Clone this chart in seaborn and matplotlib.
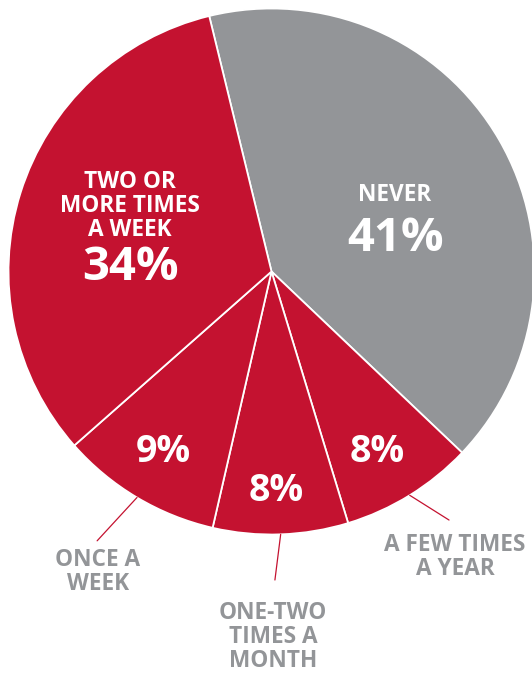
import numpy as np
import matplotlib
matplotlib.use("Agg")
import matplotlib.pyplot as plt
import seaborn as sns

# ---- data ----
categories = ["NEVER", "A FEW TIMES\nA YEAR", "ONE-TWO\nTIMES A\nMONTH", "ONCE A\nWEEK", "TWO OR\nMORE TIMES\nA WEEK"]
shares = [40.9, 8.2, 8.3, 9.9, 32.7]          # wedge sizes as drawn
pct_labels = ["41%", "8%", "8%", "9%", "34%"]  # printed labels
slice_colors = ["#939598", "#C41230", "#C41230", "#C41230", "#C41230"]

sns.set_theme(style="white")
plt.rcParams['font.family'] = ['Open Sans', 'DejaVu Sans']

W, H = 532, 673
fig = plt.figure(figsize=(W / 100, H / 100), dpi=100)
cx, cy, R = 271.5, 271.5, 263.0
ax = fig.add_axes([(cx - R) / W, 1 - (cy + R) / H, 2 * R / W, 2 * R / H])

wedges, _ = ax.pie(shares, colors=slice_colors, startangle=103.7, counterclock=False,
                   radius=1.0, wedgeprops=dict(edgecolor='white', linewidth=1.3))
ax.set_xlim(-1, 1)
ax.set_ylim(-1, 1)
ax.set_aspect('equal')
ax.axis('off')
for w in wedges:
    w.set_clip_on(False)

white = 'white'
txtgrey = '#939598'
linered = '#C41230'

SMALL = 16.3
BIG = 34
MID = 27

def mid(w):
    return np.deg2rad((w.theta1 + w.theta2) / 2)

# inside labels
ax.text(0.470, 0.291, "NEVER", ha='center', va='center', color=white, fontsize=SMALL, fontweight='bold')
ax.text(0.473, 0.124, pct_labels[0], ha='center', va='center', color=white, fontsize=BIG, fontweight='bold')
ax.text(-0.538, 0.249, categories[4], ha='center', va='center', color=white, fontsize=SMALL,
        fontweight='bold', linespacing=1.0)
ax.text(-0.538, 0.014, pct_labels[4], ha='center', va='center', color=white, fontsize=BIG, fontweight='bold')
ax.text(-0.413, -0.688, pct_labels[3], ha='center', va='center', color=white, fontsize=MID, fontweight='bold')
ax.text(0.017, -0.833, pct_labels[2], ha='center', va='center', color=white, fontsize=MID, fontweight='bold')
ax.text(0.401, -0.688, pct_labels[1], ha='center', va='center', color=white, fontsize=MID, fontweight='bold')

# outside labels with leader lines
outside = [
    (3, (-0.663, -1.024), (-0.660, -1.141)),
    (2, (0.013, -1.173), (0.006, -1.390)),
    (1, (0.675, -0.945), (0.698, -1.086)),
]
for idx, end, tpos in outside:
    a = mid(wedges[idx])
    ax.annotate("", xy=(np.cos(a) * 1.0, np.sin(a) * 1.0), xytext=end,
                arrowprops=dict(arrowstyle='-', color=linered, lw=0.9, shrinkA=0, shrinkB=0),
                annotation_clip=False)
    ax.text(tpos[0], tpos[1], categories[idx], ha='center', va='center', color=txtgrey,
            fontsize=SMALL, fontweight='bold', linespacing=1.0, clip_on=False)

fig.savefig("out.png", dpi=100)
